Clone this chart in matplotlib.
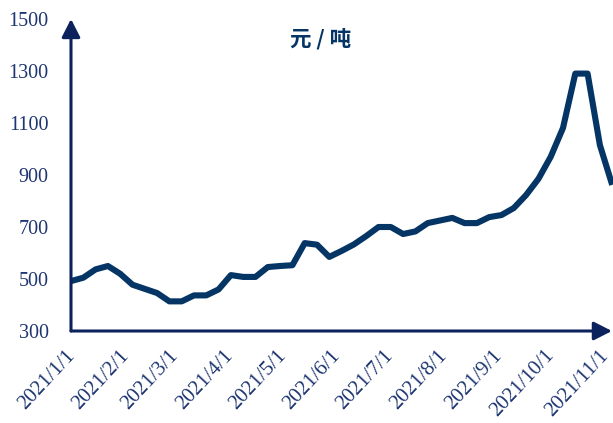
import numpy as np
import pandas as pd
import matplotlib
matplotlib.use('Agg')
from matplotlib import pyplot as plt
from matplotlib import transforms


# weekly prices, 元/吨, starting 2021/1/1
start_date = '2021-01-01'
prices = [492, 505, 537, 550, 520, 478, 462, 446, 414, 414,
          437, 437, 460, 515, 508, 508, 546, 550, 553, 638,
          632, 585, 608, 633, 665, 700, 700, 673, 683, 715,
          725, 735, 715, 715, 738, 746, 773, 823, 885, 970,
          1081, 1290, 1290, 1015, 862]
month_ticks = pd.date_range('2021-01-01', '2021-11-01', freq='MS')
y_ticks = [300, 500, 700, 900, 1100, 1300, 1500]
title = '元 / 吨'

LINE_COLOR = '#043565'
AXIS_COLOR = '#0c225c'
TEXT_COLOR = '#1d3570'

dates = pd.date_range(start_date, periods=len(prices), freq='7D')

W, H = 613, 423
fig = plt.figure(figsize=(W / 100, H / 100), dpi=100)
left, right, bottom, top = 71, 612.2, 331, 19
ax = fig.add_axes([left / W, 1 - bottom / H, (right - left) / W, (bottom - top) / H])

ax.plot(dates, prices, color=LINE_COLOR, lw=4.4, solid_joinstyle='round',
        solid_capstyle='butt', clip_on=False)

ax.set_xlim(dates[0], dates[-1])
ax.set_ylim(300, 1500)

for s in ax.spines.values():
    s.set_visible(False)

ax.set_yticks(y_ticks)
ax.set_yticklabels([str(v) for v in y_ticks], fontfamily='Liberation Serif',
                   fontsize=14.5, color=TEXT_COLOR)
ax.tick_params(axis='y', length=0, pad=16)

ax.set_xticks(month_ticks)
ax.set_xticklabels([f'{d.year}/{d.month}/{d.day}' for d in month_ticks],
                   fontfamily='Liberation Serif', fontsize=15, color=TEXT_COLOR,
                   rotation=47, ha='right', va='top', rotation_mode='anchor')
ax.tick_params(axis='x', length=0, pad=11)
shift = transforms.ScaledTranslation(-6 / 100, 0, fig.dpi_scale_trans)
for lab in ax.get_xticklabels():
    lab.set_transform(lab.get_transform() + shift)

arrow = dict(arrowstyle='-|>,head_length=0.55,head_width=0.28', mutation_scale=20,
             color=AXIS_COLOR, lw=2.2, shrinkA=0, shrinkB=0)
ax.annotate('', xy=(0, 1), xytext=(0, 0), xycoords='axes fraction',
            arrowprops=arrow, annotation_clip=False)
ax.annotate('', xy=(0.9995, 0), xytext=(0, 0), xycoords='axes fraction',
            arrowprops=arrow, annotation_clip=False)

fig.text(321 / W, 1 - 39 / H, title, ha='center', va='center', fontsize=15.5,
         fontweight='bold', color=LINE_COLOR,
         family=['Noto Sans CJK SC', 'DejaVu Sans'])

fig.savefig('out.png', dpi=100)
